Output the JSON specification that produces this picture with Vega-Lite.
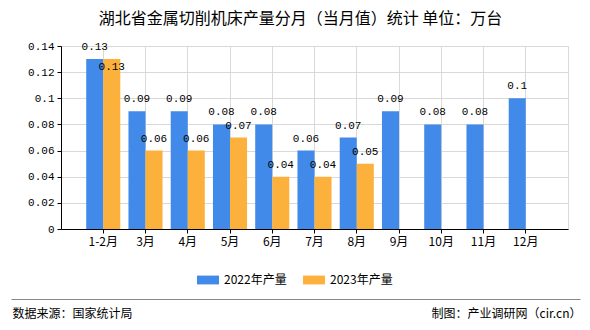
{
  "$schema": "https://vega.github.io/schema/vega-lite/v6.json",
  "width": 507,
  "height": 183,
  "autosize": {"type": "none"},
  "padding": {"left": 61, "top": 46, "right": 22, "bottom": 101},
  "background": "white",
  "title": {
    "text": "湖北省金属切削机床产量分月（当月值）统计 单位：万台",
    "font": "Noto Sans CJK SC",
    "fontSize": 16,
    "fontWeight": "normal",
    "color": "#000000",
    "anchor": "middle",
    "dx": -14,
    "offset": 13
  },
  "config": {
    "view": {"stroke": "#d9d9d9"},
    "axis": {"labelFont": "Noto Sans CJK SC", "titleFont": "Noto Sans CJK SC"}
  },
  "data": {
    "values": [
      {"month": "1-2月", "year": "2022年产量", "value": 0.13},
      {"month": "3月", "year": "2022年产量", "value": 0.09},
      {"month": "4月", "year": "2022年产量", "value": 0.09},
      {"month": "5月", "year": "2022年产量", "value": 0.08},
      {"month": "6月", "year": "2022年产量", "value": 0.08},
      {"month": "7月", "year": "2022年产量", "value": 0.06},
      {"month": "8月", "year": "2022年产量", "value": 0.07},
      {"month": "9月", "year": "2022年产量", "value": 0.09},
      {"month": "10月", "year": "2022年产量", "value": 0.08},
      {"month": "11月", "year": "2022年产量", "value": 0.08},
      {"month": "12月", "year": "2022年产量", "value": 0.1},
      {"month": "1-2月", "year": "2023年产量", "value": 0.13},
      {"month": "3月", "year": "2023年产量", "value": 0.06},
      {"month": "4月", "year": "2023年产量", "value": 0.06},
      {"month": "5月", "year": "2023年产量", "value": 0.07},
      {"month": "6月", "year": "2023年产量", "value": 0.04},
      {"month": "7月", "year": "2023年产量", "value": 0.04},
      {"month": "8月", "year": "2023年产量", "value": 0.05}
    ]
  },
  "layer": [
    {
      "encoding": {
        "x": {
          "field": "month",
          "type": "nominal",
          "sort": ["1-2月", "3月", "4月", "5月", "6月", "7月", "8月", "9月", "10月", "11月", "12月"],
          "scale": {"type": "band", "paddingInner": 0, "paddingOuter": 0.5},
          "axis": {
            "title": null,
            "labelAngle": 0,
            "labelFontSize": 12,
            "labelColor": "#000000",
            "labelPadding": 3,
            "tickSize": 4,
            "tickColor": "#000000",
            "domainColor": "#000000",
            "grid": true,
            "gridColor": "#d9d9d9",
            "bandPosition": 0.5
          }
        },
        "xOffset": {
          "field": "year",
          "type": "nominal",
          "scale": {"paddingInner": 0, "paddingOuter": 0.24}
        },
        "y": {
          "field": "value",
          "type": "quantitative",
          "scale": {"domain": [0, 0.14], "nice": false},
          "axis": {
            "title": null,
            "values": [0, 0.02, 0.04, 0.06, 0.08, 0.1, 0.12, 0.14],
            "format": ".2~f",
            "labelFont": "Liberation Mono",
            "labelFontSize": 11,
            "labelColor": "#000000",
            "labelPadding": 3,
            "tickSize": 4,
            "tickColor": "#000000",
            "domainColor": "#000000",
            "gridColor": "#d9d9d9"
          }
        }
      },
      "layer": [
        {
          "mark": {"type": "bar"},
          "encoding": {
            "color": {
              "field": "year",
              "type": "nominal",
              "scale": {"domain": ["2022年产量", "2023年产量"], "range": ["#418AEA", "#FBB13C"]},
              "legend": {
                "title": null,
                "orient": "none",
                "legendX": 136,
                "legendY": 223,
                "direction": "horizontal",
                "symbolType": "M-1,-0.4L1,-0.4L1,0.4L-1,0.4Z",
                "symbolSize": 484,
                "symbolStrokeWidth": 0,
                "labelFont": "Noto Sans CJK SC",
                "labelFontSize": 12,
                "labelColor": "#000000",
                "labelOffset": 5,
                "columnPadding": 16,
                "padding": 0
              }
            }
          }
        },
        {
          "transform": [{"filter": "!(datum.month == '1-2月' && datum.year == '2023年产量')"}],
          "mark": {"type": "text", "baseline": "middle", "dy": -12, "font": "Liberation Mono", "fontSize": 11, "color": "#000000"},
          "encoding": {"text": {"field": "value", "type": "quantitative", "format": ".2~f"}}
        },
        {
          "transform": [{"filter": "datum.month == '1-2月' && datum.year == '2023年产量'"}],
          "mark": {"type": "text", "baseline": "middle", "dy": 8, "font": "Liberation Mono", "fontSize": 11, "color": "#000000"},
          "encoding": {"text": {"field": "value", "type": "quantitative", "format": ".2~f"}}
        }
      ]
    },
    {
      "mark": {"type": "point", "opacity": 0},
      "encoding": {
        "x": {
          "field": "month",
          "type": "nominal",
          "sort": ["1-2月", "3月", "4月", "5月", "6月", "7月", "8月", "9月", "10月", "11月", "12月"],
          "scale": {"type": "point", "range": [-50, 519]},
          "axis": {
            "orient": "bottom",
            "offset": 70,
            "labels": false,
            "ticks": false,
            "grid": false,
            "domainColor": "#888888",
            "domainWidth": 1,
            "title": "数据来源：国家统计局",
            "titleFont": "Noto Sans CJK SC",
            "titleFontSize": 12,
            "titleFontWeight": "normal",
            "titleColor": "#000000",
            "titleAlign": "left",
            "titleBaseline": "middle",
            "titleAnchor": "start",
            "titleX": -49,
            "titleY": 14
          }
        },
        "y": {
          "field": "value",
          "type": "quantitative",
          "scale": {"domain": [0, 0.14]},
          "axis": {
            "orient": "right",
            "labels": false,
            "ticks": false,
            "grid": false,
            "domain": false,
            "title": "制图：产业调研网（cir.cn）",
            "titleFont": "Noto Sans CJK SC",
            "titleFontSize": 12,
            "titleFontWeight": "normal",
            "titleColor": "#000000",
            "titleAngle": 0,
            "titleAlign": "right",
            "titleBaseline": "middle",
            "titleX": 13,
            "titleY": 267
          }
        }
      }
    }
  ],
  "resolve": {
    "scale": {"x": "independent", "y": "independent"},
    "axis": {"x": "independent", "y": "independent"}
  }
}
